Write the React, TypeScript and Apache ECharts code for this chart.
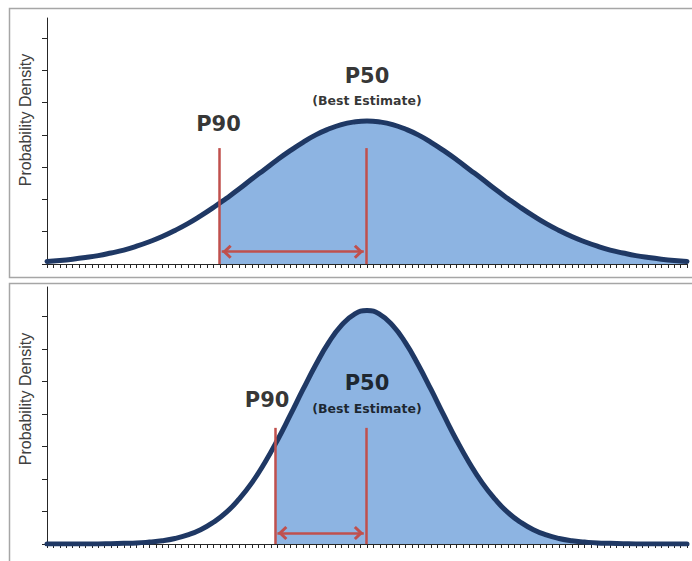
import React, { useEffect, useRef } from "react";
import * as echarts from "echarts";

// ---- data ----
const xs = [0, 2, 4, 6, 8, 10, 12, 14, 16, 18, 20, 22, 24, 26, 28, 30, 32, 34, 36, 38, 40, 42, 44, 46, 48, 50,
  52, 54, 56, 58, 60, 62, 64, 66, 68, 70, 72, 74, 76, 78, 80, 82, 84, 86, 88, 90, 92, 94, 96, 98, 100];

const topDensity = [0.08, 0.11, 0.15, 0.2, 0.26, 0.34, 0.43, 0.55, 0.69, 0.85, 1.04, 1.25, 1.49, 1.75, 2.03, 2.32,
  2.63, 2.93, 3.23, 3.51, 3.77, 4.0, 4.18, 4.32, 4.4, 4.43,
  4.4, 4.32, 4.18, 4.0, 3.77, 3.51, 3.23, 2.93, 2.63, 2.32, 2.03, 1.75, 1.49, 1.25, 1.04, 0.85, 0.69, 0.55,
  0.43, 0.34, 0.26, 0.2, 0.15, 0.11, 0.08];

const bottomDensity = [0, 0, 0, 0, 0, 0.01, 0.02, 0.03, 0.06, 0.1, 0.17, 0.28, 0.44, 0.67, 0.97, 1.38, 1.88,
  2.49, 3.19, 3.96, 4.75, 5.51, 6.19, 6.72, 7.06, 7.18,
  7.06, 6.72, 6.19, 5.51, 4.75, 3.96, 3.19, 2.49, 1.88, 1.38, 0.97, 0.67, 0.44, 0.28, 0.17, 0.1, 0.06, 0.03,
  0.02, 0.01, 0, 0, 0, 0, 0];

const yTicks = [0, 1, 2, 3, 4, 5, 6, 7];
const yMax = [7.62, 7.9];

// percentile positions (x), curve height at P90, marker line height, arrow level
const p90 = [26.9, 35.6];
const p50 = [49.9, 49.9];
const p90CurveHeight = [1.87, 3.05];
const markerHeight = [3.59, 3.57];
const arrowLevel = [0.38, 0.34];

// annotation texts
const labelTexts = ["P90", "P50", "(Best Estimate)"];
const labelX = [[26.8, 50, 50], [34.4, 50, 50]];
const labelY = [[4.33, 5.82, 5.05], [4.43, 4.95, 4.15]];
const axisTitle = "Probability Density";

const densities = [topDensity, bottomDensity];

// ---- styles ----
const NAVY = "#1F3864";
const FILL = "#8DB4E2";
const RED = "#C0504D";
const AXIS = "#262626";
const chevron = "path://M6.5,-10M6.5,0L13,7L11.1,9L6.5,4.1L1.9,9L0,7Z";

export default function App() {
  const ref = useRef<HTMLDivElement>(null);

  useEffect(() => {
    if (!ref.current) return;
    const chart = echarts.init(ref.current, null, { renderer: "svg" });

    const grids = [
      { left: 47, top: 18, width: 640, height: 246 },
      { left: 47, top: 287, width: 640, height: 257 },
    ];

    const xAxis = [0, 1].map((i) => ({
      type: "value",
      gridIndex: i,
      min: 0,
      max: 100,
      interval: 1,
      axisLine: { show: true, onZero: false, lineStyle: { color: AXIS, width: 1 } },
      axisTick: { show: true, inside: false, length: 4, lineStyle: { color: AXIS, width: 1 } },
      axisLabel: { show: false },
      splitLine: { show: false },
    }));

    const yAxis = [0, 1].map((i) => ({
      type: "value",
      gridIndex: i,
      min: 0,
      max: yMax[i],
      interval: 1,
      axisLine: { show: true, onZero: false, lineStyle: { color: AXIS, width: 1 } },
      axisTick: { show: true, inside: false, length: 5, customValues: yTicks, lineStyle: { color: AXIS, width: 1 } },
      axisLabel: { show: false },
      splitLine: { show: false },
    }));

    const series: any[] = [];
    [0, 1].forEach((i) => {
      const dens = densities[i];
      const curve = xs.map((x, k) => [x, dens[k]]);
      const fill = [[p90[i], p90CurveHeight[i]] as number[]].concat(
        xs.map((x, k) => [x, dens[k]]).filter((pt) => pt[0] > p90[i] + 1)
      );
      series.push({
        type: "line",
        xAxisIndex: i,
        yAxisIndex: i,
        data: fill,
        smooth: true,
        symbol: "none",
        silent: true,
        lineStyle: { width: 0 },
        areaStyle: { color: FILL, opacity: 1 },
        z: 1,
      });
      series.push({
        type: "line",
        xAxisIndex: i,
        yAxisIndex: i,
        data: curve,
        smooth: true,
        symbol: "none",
        silent: true,
        lineStyle: { color: NAVY, width: 5, cap: "round" },
        z: 3,
        markLine: {
          silent: true,
          z: 5,
          label: { show: false },
          lineStyle: { color: RED, width: 2.5, type: "solid" },
          symbol: ["none", "none"],
          data: [
            [{ coord: [p90[i], 0] }, { coord: [p90[i], markerHeight[i]] }],
            [{ coord: [p50[i], 0] }, { coord: [p50[i], markerHeight[i]] }],
            [
              { coord: [p90[i] + 0.4, arrowLevel[i]], symbol: chevron, symbolSize: [14, 20] },
              { coord: [p50[i] - 0.4, arrowLevel[i]], symbol: chevron, symbolSize: [14, 20] },
            ],
          ],
        },
      });
      series.push({
        type: "scatter",
        xAxisIndex: i,
        yAxisIndex: i,
        silent: true,
        symbol: "circle",
        symbolSize: 1,
        itemStyle: { color: "rgba(0,0,0,0)" },
        z: 6,
        label: {
          show: true,
          position: "inside",
          formatter: "{b}",
          color: "#000000",
          fontFamily: "DejaVu Sans",
          fontWeight: "bold",
        },
        data: labelTexts.map((t, k) => ({
          name: t,
          value: [labelX[i][k], labelY[i][k]],
          label: { fontSize: k === 2 ? 12.5 : 21 },
        })),
      });
    });

    chart.setOption({
      animation: false,
      backgroundColor: "#FFFFFF",
      grid: grids,
      xAxis,
      yAxis,
      series,
      graphic: [
        {
          type: "rect",
          z: 0,
          shape: { x: 9.5, y: 8.5, width: 720, height: 269 },
          style: { fill: "none", stroke: "#A6A6A6", lineWidth: 1.5 },
          silent: true,
        },
        {
          type: "rect",
          z: 0,
          shape: { x: 9.5, y: 283.5, width: 720, height: 300 },
          style: { fill: "none", stroke: "#A6A6A6", lineWidth: 1.5 },
          silent: true,
        },
        {
          type: "text",
          x: 25,
          y: 120,
          rotation: Math.PI / 2,
          silent: true,
          style: {
            text: axisTitle,
            fontSize: 16,
            fontFamily: "Liberation Sans",
            fill: "#404040",
            align: "center",
            verticalAlign: "middle",
          },
        },
        {
          type: "text",
          x: 25,
          y: 399,
          rotation: Math.PI / 2,
          silent: true,
          style: {
            text: axisTitle,
            fontSize: 16,
            fontFamily: "Liberation Sans",
            fill: "#404040",
            align: "center",
            verticalAlign: "middle",
          },
        },
      ],
    });

    return () => chart.dispose();
  }, []);

  return (
    <div
      ref={ref}
      style={{ position: "fixed", left: 0, top: 0, width: 692, height: 561, background: "#fff" }}
    />
  );
}
